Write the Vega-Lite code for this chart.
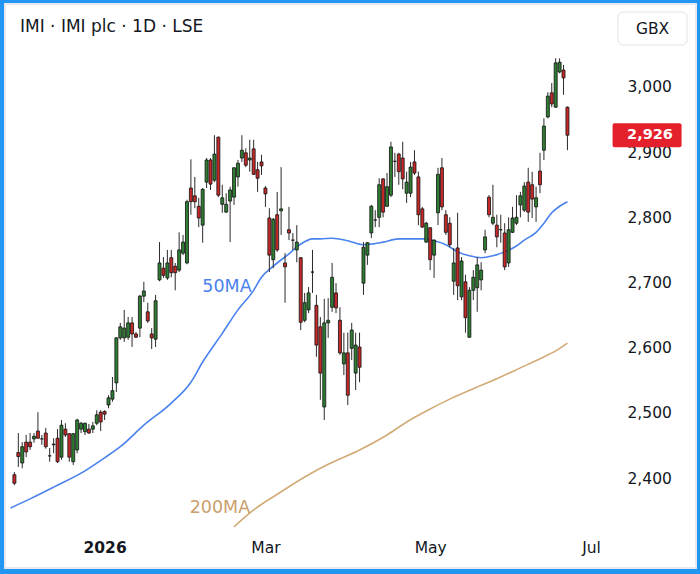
{
  "$schema": "https://vega.github.io/schema/vega-lite/v6.json",
  "width": 691,
  "height": 564,
  "padding": {"left": 5, "top": 4, "right": 4, "bottom": 6},
  "background": "#2196f3",
  "title": {
    "text": "IMI · IMI plc · 1D · LSE",
    "anchor": "start",
    "frame": "group",
    "offset": -32,
    "dx": 15,
    "font": "DejaVu Sans",
    "fontSize": 17,
    "fontWeight": "normal",
    "color": "#131722"
  },
  "datasets": {
    "candles": [
      {"k": -23, "o": 2405, "h": 2409, "l": 2389, "c": 2392},
      {"k": -22, "o": 2439, "h": 2469, "l": 2417, "c": 2433},
      {"k": -21, "o": 2423, "h": 2455, "l": 2415, "c": 2448},
      {"k": -20, "o": 2455, "h": 2466, "l": 2432, "c": 2440},
      {"k": -19, "o": 2455, "h": 2469, "l": 2443, "c": 2448},
      {"k": -18, "o": 2460, "h": 2469, "l": 2454, "c": 2464},
      {"k": -17, "o": 2472, "h": 2501, "l": 2461, "c": 2461},
      {"k": -16, "o": 2460, "h": 2466, "l": 2451, "c": 2460},
      {"k": -15, "o": 2469, "h": 2477, "l": 2445, "c": 2448},
      {"k": -14, "o": 2434, "h": 2446, "l": 2425, "c": 2434},
      {"k": -13, "o": 2451, "h": 2461, "l": 2438, "c": 2452},
      {"k": -12, "o": 2461, "h": 2475, "l": 2423, "c": 2425},
      {"k": -11, "o": 2432, "h": 2489, "l": 2428, "c": 2481},
      {"k": -10, "o": 2475, "h": 2484, "l": 2463, "c": 2466},
      {"k": -9, "o": 2468, "h": 2469, "l": 2425, "c": 2432},
      {"k": -8, "o": 2425, "h": 2469, "l": 2420, "c": 2468},
      {"k": -7, "o": 2443, "h": 2491, "l": 2438, "c": 2489},
      {"k": -6, "o": 2475, "h": 2486, "l": 2469, "c": 2484},
      {"k": -5, "o": 2471, "h": 2485, "l": 2466, "c": 2484},
      {"k": -4, "o": 2475, "h": 2483, "l": 2468, "c": 2469},
      {"k": -3, "o": 2475, "h": 2486, "l": 2469, "c": 2480},
      {"k": -2, "o": 2484, "h": 2504, "l": 2481, "c": 2497},
      {"k": -1, "o": 2501, "h": 2504, "l": 2472, "c": 2486},
      {"k": 0, "o": 2502, "h": 2504, "l": 2489, "c": 2498},
      {"k": 1, "o": 2512, "h": 2527, "l": 2507, "c": 2523},
      {"k": 2, "o": 2521, "h": 2555, "l": 2517, "c": 2534},
      {"k": 3, "o": 2546, "h": 2616, "l": 2532, "c": 2615},
      {"k": 4, "o": 2615, "h": 2638, "l": 2612, "c": 2632},
      {"k": 5, "o": 2615, "h": 2658, "l": 2609, "c": 2630},
      {"k": 6, "o": 2616, "h": 2647, "l": 2612, "c": 2638},
      {"k": 7, "o": 2638, "h": 2647, "l": 2601, "c": 2621},
      {"k": 8, "o": 2621, "h": 2624, "l": 2615, "c": 2616},
      {"k": 9, "o": 2630, "h": 2681, "l": 2616, "c": 2679},
      {"k": 10, "o": 2679, "h": 2701, "l": 2670, "c": 2687},
      {"k": 11, "o": 2655, "h": 2669, "l": 2638, "c": 2641},
      {"k": 12, "o": 2621, "h": 2630, "l": 2598, "c": 2615},
      {"k": 13, "o": 2613, "h": 2681, "l": 2601, "c": 2672},
      {"k": 14, "o": 2704, "h": 2762, "l": 2702, "c": 2730},
      {"k": 15, "o": 2722, "h": 2739, "l": 2707, "c": 2711},
      {"k": 16, "o": 2707, "h": 2750, "l": 2704, "c": 2730},
      {"k": 17, "o": 2738, "h": 2750, "l": 2708, "c": 2715},
      {"k": 18, "o": 2725, "h": 2730, "l": 2688, "c": 2715},
      {"k": 19, "o": 2719, "h": 2777, "l": 2716, "c": 2750},
      {"k": 20, "o": 2745, "h": 2773, "l": 2742, "c": 2762},
      {"k": 21, "o": 2730, "h": 2827, "l": 2728, "c": 2824},
      {"k": 22, "o": 2845, "h": 2889, "l": 2804, "c": 2824},
      {"k": 23, "o": 2833, "h": 2862, "l": 2814, "c": 2824},
      {"k": 24, "o": 2817, "h": 2830, "l": 2785, "c": 2799},
      {"k": 25, "o": 2788, "h": 2845, "l": 2761, "c": 2843},
      {"k": 26, "o": 2854, "h": 2891, "l": 2845, "c": 2888},
      {"k": 27, "o": 2888, "h": 2891, "l": 2842, "c": 2851},
      {"k": 28, "o": 2857, "h": 2926, "l": 2854, "c": 2897},
      {"k": 29, "o": 2923, "h": 2924, "l": 2831, "c": 2834},
      {"k": 30, "o": 2820, "h": 2850, "l": 2807, "c": 2830},
      {"k": 31, "o": 2808, "h": 2837, "l": 2807, "c": 2820},
      {"k": 32, "o": 2825, "h": 2847, "l": 2762, "c": 2842},
      {"k": 33, "o": 2831, "h": 2877, "l": 2819, "c": 2876},
      {"k": 34, "o": 2862, "h": 2888, "l": 2847, "c": 2883},
      {"k": 35, "o": 2891, "h": 2926, "l": 2885, "c": 2903},
      {"k": 36, "o": 2899, "h": 2906, "l": 2877, "c": 2880},
      {"k": 37, "o": 2888, "h": 2919, "l": 2870, "c": 2891},
      {"k": 38, "o": 2905, "h": 2919, "l": 2865, "c": 2866},
      {"k": 39, "o": 2873, "h": 2885, "l": 2839, "c": 2860},
      {"k": 40, "o": 2885, "h": 2896, "l": 2865, "c": 2879},
      {"k": 41, "o": 2845, "h": 2848, "l": 2816, "c": 2836},
      {"k": 42, "o": 2799, "h": 2814, "l": 2716, "c": 2742},
      {"k": 43, "o": 2735, "h": 2799, "l": 2722, "c": 2797},
      {"k": 44, "o": 2804, "h": 2839, "l": 2747, "c": 2750},
      {"k": 45, "o": 2810, "h": 2877, "l": 2773, "c": 2813},
      {"k": 46, "o": 2730, "h": 2745, "l": 2669, "c": 2724},
      {"k": 47, "o": 2781, "h": 2816, "l": 2765, "c": 2776},
      {"k": 48, "o": 2765, "h": 2776, "l": 2750, "c": 2765},
      {"k": 49, "o": 2750, "h": 2788, "l": 2731, "c": 2762},
      {"k": 50, "o": 2738, "h": 2739, "l": 2627, "c": 2639},
      {"k": 51, "o": 2642, "h": 2684, "l": 2639, "c": 2669},
      {"k": 52, "o": 2658, "h": 2693, "l": 2653, "c": 2684},
      {"k": 53, "o": 2716, "h": 2750, "l": 2684, "c": 2716},
      {"k": 54, "o": 2665, "h": 2681, "l": 2586, "c": 2604},
      {"k": 55, "o": 2632, "h": 2647, "l": 2520, "c": 2561},
      {"k": 56, "o": 2509, "h": 2675, "l": 2489, "c": 2638},
      {"k": 57, "o": 2638, "h": 2676, "l": 2615, "c": 2642},
      {"k": 58, "o": 2662, "h": 2730, "l": 2655, "c": 2708},
      {"k": 59, "o": 2684, "h": 2699, "l": 2653, "c": 2661},
      {"k": 60, "o": 2642, "h": 2662, "l": 2589, "c": 2592},
      {"k": 61, "o": 2575, "h": 2623, "l": 2558, "c": 2592},
      {"k": 62, "o": 2592, "h": 2623, "l": 2512, "c": 2527},
      {"k": 63, "o": 2599, "h": 2638, "l": 2581, "c": 2627},
      {"k": 64, "o": 2561, "h": 2623, "l": 2535, "c": 2604},
      {"k": 65, "o": 2601, "h": 2623, "l": 2547, "c": 2570},
      {"k": 66, "o": 2699, "h": 2762, "l": 2681, "c": 2754},
      {"k": 67, "o": 2742, "h": 2762, "l": 2727, "c": 2761},
      {"k": 68, "o": 2776, "h": 2819, "l": 2768, "c": 2817},
      {"k": 69, "o": 2796, "h": 2811, "l": 2785, "c": 2796},
      {"k": 70, "o": 2800, "h": 2860, "l": 2785, "c": 2850},
      {"k": 71, "o": 2859, "h": 2860, "l": 2800, "c": 2808},
      {"k": 72, "o": 2817, "h": 2868, "l": 2816, "c": 2847},
      {"k": 73, "o": 2834, "h": 2916, "l": 2831, "c": 2908},
      {"k": 74, "o": 2886, "h": 2899, "l": 2862, "c": 2886},
      {"k": 75, "o": 2897, "h": 2899, "l": 2850, "c": 2870},
      {"k": 76, "o": 2891, "h": 2916, "l": 2843, "c": 2859},
      {"k": 77, "o": 2837, "h": 2870, "l": 2822, "c": 2854},
      {"k": 78, "o": 2837, "h": 2885, "l": 2831, "c": 2877},
      {"k": 79, "o": 2885, "h": 2903, "l": 2865, "c": 2868},
      {"k": 80, "o": 2862, "h": 2870, "l": 2788, "c": 2804},
      {"k": 81, "o": 2813, "h": 2816, "l": 2784, "c": 2785},
      {"k": 82, "o": 2762, "h": 2793, "l": 2761, "c": 2791},
      {"k": 83, "o": 2784, "h": 2785, "l": 2719, "c": 2735},
      {"k": 84, "o": 2742, "h": 2766, "l": 2707, "c": 2765},
      {"k": 85, "o": 2807, "h": 2876, "l": 2788, "c": 2866},
      {"k": 86, "o": 2876, "h": 2891, "l": 2811, "c": 2816},
      {"k": 87, "o": 2804, "h": 2811, "l": 2773, "c": 2777},
      {"k": 88, "o": 2791, "h": 2800, "l": 2754, "c": 2758},
      {"k": 89, "o": 2702, "h": 2753, "l": 2681, "c": 2730},
      {"k": 90, "o": 2753, "h": 2807, "l": 2673, "c": 2695},
      {"k": 91, "o": 2678, "h": 2739, "l": 2673, "c": 2733},
      {"k": 92, "o": 2701, "h": 2712, "l": 2623, "c": 2646},
      {"k": 93, "o": 2616, "h": 2693, "l": 2615, "c": 2688},
      {"k": 94, "o": 2688, "h": 2719, "l": 2673, "c": 2708},
      {"k": 95, "o": 2692, "h": 2739, "l": 2655, "c": 2727},
      {"k": 96, "o": 2704, "h": 2731, "l": 2688, "c": 2719},
      {"k": 97, "o": 2750, "h": 2781, "l": 2745, "c": 2770},
      {"k": 98, "o": 2831, "h": 2834, "l": 2800, "c": 2804},
      {"k": 99, "o": 2791, "h": 2850, "l": 2788, "c": 2800},
      {"k": 100, "o": 2788, "h": 2804, "l": 2754, "c": 2770},
      {"k": 101, "o": 2781, "h": 2804, "l": 2761, "c": 2781},
      {"k": 102, "o": 2776, "h": 2791, "l": 2719, "c": 2724},
      {"k": 103, "o": 2730, "h": 2800, "l": 2724, "c": 2781},
      {"k": 104, "o": 2777, "h": 2816, "l": 2776, "c": 2799},
      {"k": 105, "o": 2791, "h": 2834, "l": 2788, "c": 2800},
      {"k": 106, "o": 2819, "h": 2839, "l": 2800, "c": 2833},
      {"k": 107, "o": 2811, "h": 2854, "l": 2808, "c": 2848},
      {"k": 108, "o": 2854, "h": 2876, "l": 2793, "c": 2808},
      {"k": 109, "o": 2850, "h": 2870, "l": 2799, "c": 2828},
      {"k": 110, "o": 2816, "h": 2847, "l": 2793, "c": 2830},
      {"k": 111, "o": 2871, "h": 2899, "l": 2837, "c": 2850},
      {"k": 112, "o": 2903, "h": 2952, "l": 2888, "c": 2940},
      {"k": 113, "o": 2954, "h": 2992, "l": 2952, "c": 2986},
      {"k": 114, "o": 2991, "h": 3006, "l": 2969, "c": 2974},
      {"k": 115, "o": 2969, "h": 3044, "l": 2968, "c": 3037},
      {"k": 116, "o": 3023, "h": 3044, "l": 3021, "c": 3038},
      {"k": 117, "o": 3026, "h": 3034, "l": 2988, "c": 3014},
      {"k": 118, "o": 2969, "h": 2970, "l": 2903, "c": 2926}
    ],
    "ma50": [
      {"k": -24, "v": 2354}, {"k": -19, "v": 2368}, {"k": -13, "v": 2386},
      {"k": -5, "v": 2411}, {"k": 0, "v": 2431}, {"k": 4, "v": 2448},
      {"k": 10, "v": 2481}, {"k": 17, "v": 2515}, {"k": 22, "v": 2547},
      {"k": 25, "v": 2578}, {"k": 30, "v": 2622}, {"k": 34, "v": 2658},
      {"k": 38, "v": 2688}, {"k": 40, "v": 2708}, {"k": 43, "v": 2725},
      {"k": 47, "v": 2744}, {"k": 50, "v": 2759}, {"k": 53, "v": 2767},
      {"k": 55, "v": 2767}, {"k": 58, "v": 2768}, {"k": 62, "v": 2764},
      {"k": 66, "v": 2758}, {"k": 68, "v": 2759}, {"k": 71, "v": 2762},
      {"k": 75, "v": 2767}, {"k": 81, "v": 2767}, {"k": 84, "v": 2764},
      {"k": 87, "v": 2758}, {"k": 90, "v": 2747}, {"k": 93, "v": 2741},
      {"k": 96, "v": 2738}, {"k": 99, "v": 2741}, {"k": 102, "v": 2747},
      {"k": 105, "v": 2756}, {"k": 107, "v": 2765}, {"k": 110, "v": 2777},
      {"k": 112, "v": 2791}, {"k": 114, "v": 2807}, {"k": 116, "v": 2817},
      {"k": 118, "v": 2824}
    ],
    "ma200": [
      {"k": 33, "v": 2325}, {"k": 38, "v": 2351}, {"k": 44, "v": 2375},
      {"k": 52, "v": 2405}, {"k": 57, "v": 2421}, {"k": 65, "v": 2443},
      {"k": 72, "v": 2466}, {"k": 77, "v": 2486}, {"k": 83, "v": 2506},
      {"k": 88, "v": 2521}, {"k": 94, "v": 2537}, {"k": 101, "v": 2555},
      {"k": 106, "v": 2569}, {"k": 111, "v": 2583}, {"k": 115, "v": 2595},
      {"k": 118, "v": 2607}
    ],
    "labels": [
      {"k": 31.2, "v": 2693, "name": "50MA", "series": "50"},
      {"k": 29.4, "v": 2354, "name": "200MA", "series": "200"}
    ]
  },
  "encoding": {
    "x": {
      "field": "k",
      "type": "quantitative",
      "scale": {"domain": [-24.12, 149.5], "nice": false, "zero": false},
      "axis": {
        "orient": "bottom",
        "offset": -28,
        "values": [0, 41, 83, 124],
        "labelExpr": "datum.value == 0 ? '2026' : datum.value == 41 ? 'Mar' : datum.value == 83 ? 'May' : 'Jul'",
        "labelFontWeight": {"condition": {"test": "datum.value == 0", "value": "bold"}, "value": "normal"},
        "labelPadding": 0,
        "ticks": false,
        "domain": false,
        "grid": false,
        "title": null
      }
    },
    "y": {
      "type": "quantitative",
      "scale": {"domain": [2261.9, 3127.35], "nice": false, "zero": false},
      "axis": {
        "orient": "right",
        "offset": -69,
        "values": [2400, 2500, 2600, 2700, 2800, 2900, 3000],
        "labelExpr": "format(datum.value, ',')",
        "labelAlign": "left",
        "labelBaseline": "middle",
        "labelPadding": 0,
        "ticks": false,
        "domain": false,
        "grid": false,
        "title": null
      }
    }
  },
  "layer": [
    {
      "data": {"name": "ma200"},
      "mark": {"type": "line", "color": "#d2ab76", "strokeWidth": 1.6, "interpolate": "monotone"},
      "encoding": {"y": {"field": "v"}}
    },
    {
      "data": {"name": "ma50"},
      "mark": {"type": "line", "color": "#4a82ee", "strokeWidth": 1.6, "interpolate": "monotone"},
      "encoding": {"y": {"field": "v"}}
    },
    {
      "data": {"name": "candles"},
      "mark": {"type": "rule", "color": "#2b2b2b", "strokeWidth": 1},
      "encoding": {"y": {"field": "l"}, "y2": {"field": "h"}}
    },
    {
      "data": {"name": "candles"},
      "mark": {"type": "bar", "size": 3, "stroke": "#111111", "strokeWidth": 0.8},
      "encoding": {
        "y": {"field": "o"},
        "y2": {"field": "c"},
        "color": {
          "condition": {"test": "datum.c >= datum.o", "value": "#2e7d32"},
          "value": "#c62828"
        }
      }
    },
    {
      "data": {"name": "labels"},
      "mark": {"type": "text", "font": "DejaVu Sans", "fontSize": 17.5, "align": "center", "baseline": "middle"},
      "encoding": {
        "y": {"field": "v"},
        "text": {"field": "name"},
        "color": {
          "field": "series",
          "type": "nominal",
          "scale": {"domain": ["50", "200"], "range": ["#4a82ee", "#c9a06c"]},
          "legend": null
        }
      }
    },
    {
      "data": {"name": "candles"},
      "transform": [{"filter": "datum.k == 118"}],
      "mark": {"type": "tick", "orient": "horizontal", "size": 69, "thickness": 24, "color": "#e3202c", "opacity": 1, "cornerRadius": 2},
      "encoding": {"x": {"datum": 138.3, "type": "quantitative"}, "y": {"field": "c"}}
    },
    {
      "data": {"name": "candles"},
      "transform": [{"filter": "datum.k == 118"}],
      "mark": {"type": "text", "font": "DejaVu Sans", "fontSize": 14.5, "fontWeight": "bold", "color": "white", "align": "left", "baseline": "middle"},
      "encoding": {"x": {"datum": 133.2, "type": "quantitative"}, "y": {"field": "c"}, "text": {"field": "c", "format": ","}}
    },
    {
      "data": {"name": "candles"},
      "transform": [{"filter": "datum.k == 118"}],
      "mark": {"type": "tick", "orient": "horizontal", "size": 69, "thickness": 33, "color": "white", "stroke": "#e0e3eb", "strokeWidth": 1, "opacity": 1, "cornerRadius": 5},
      "encoding": {"x": {"datum": 139.7, "type": "quantitative"}, "y": {"datum": 3089.7, "type": "quantitative"}}
    },
    {
      "data": {"name": "candles"},
      "transform": [{"filter": "datum.k == 118"}],
      "mark": {"type": "text", "font": "DejaVu Sans", "fontSize": 15.5, "color": "#131722", "align": "center", "baseline": "middle"},
      "encoding": {"x": {"datum": 139.7, "type": "quantitative"}, "y": {"datum": 3089.7, "type": "quantitative"}, "text": {"value": "GBX"}}
    }
  ],
  "config": {
    "view": {"stroke": "#e6e9ef", "strokeWidth": 2, "fill": "white"},
    "axis": {"labelFont": "DejaVu Sans", "labelFontSize": 15.5, "labelColor": "#131722"}
  }
}
